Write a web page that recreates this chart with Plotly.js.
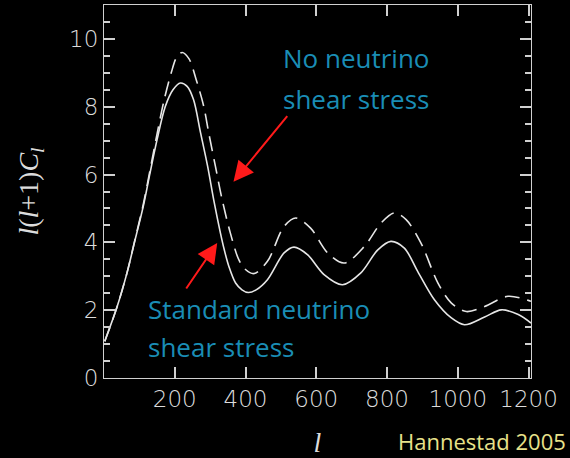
<!DOCTYPE html>
<html>
<head>
<meta charset="utf-8">
<script src="https://cdn.plot.ly/plotly-3.0.1.min.js"></script>
</head>
<body style="margin:0;background:#000">
<div id="chart"></div>
<script>
// Multipole moments and spectra
const ellStandard = [2, 37, 65, 88, 111, 130, 150, 173, 195, 216, 235, 253, 273, 293, 310, 329, 340, 353, 372, 390, 408, 430, 462, 509, 537, 575, 622, 674, 726, 774, 811, 849, 887, 934, 982, 1019, 1076, 1123, 1171, 1207];
const clStandard  = [1.08, 2.1, 3.1, 4.08, 5.06, 6.04, 7.03, 8.0, 8.5, 8.7, 8.6, 8.21, 7.23, 6.24, 5.26, 4.28, 3.78, 3.29, 2.8, 2.6, 2.52, 2.6, 2.9, 3.69, 3.86, 3.64, 3.05, 2.75, 3.1, 3.78, 4.03, 3.83, 3.14, 2.31, 1.77, 1.57, 1.8, 2.01, 1.87, 1.62];

const ellNoShear = [2, 37, 65, 88, 111, 130, 150, 170, 190, 205, 221, 240, 262, 282, 296, 315, 334, 357, 381, 400, 424, 462, 509, 542, 584, 632, 679, 736, 783, 821, 854, 896, 944, 982, 1024, 1076, 1142, 1207];
const clNoShear  = [1.08, 2.1, 3.1, 4.1, 5.12, 6.12, 7.2, 8.2, 9.0, 9.45, 9.6, 9.42, 8.75, 8.01, 7.23, 6.24, 5.26, 4.28, 3.49, 3.2, 3.08, 3.44, 4.47, 4.72, 4.42, 3.69, 3.39, 3.88, 4.57, 4.87, 4.67, 3.98, 2.8, 2.21, 1.96, 2.11, 2.41, 2.26];

const xTickVals = [200, 400, 600, 800, 1000, 1200];
const xTickText = ['200', '400', '600', '800', '1000', '1200'];
const yTickVals = [0, 2, 4, 6, 8, 10];
const yTickText = ['0', '2', '4', '6', '8', '10'];

const labelNoShear = ['No neutrino', 'shear stress'];
const labelStandard = ['Standard neutrino', 'shear stress'];
const credit = 'Hannestad 2005';

const curveColor = '#e6e6e6';
const axisColor = '#d0d0d0';
const teal = '#1a8db5';

const traces = [
  {
    x: ellStandard, y: clStandard, type: 'scatter', mode: 'lines',
    line: {color: curveColor, width: 1.6, shape: 'spline', smoothing: 0.9}
  },
  {
    x: ellNoShear, y: clNoShear, type: 'scatter', mode: 'lines',
    line: {color: curveColor, width: 1.6, shape: 'spline', smoothing: 0.9, dash: '15px,8px'}
  }
];

const tickFont = {family: 'DejaVu Sans, sans-serif', size: 23, color: '#dcdcdc', weight: 200};
const annFont = {family: 'Open Sans, sans-serif', size: 26, color: teal};
const titleFont = {family: 'Liberation Serif, serif', size: 28, color: '#dcdcdc'};

const layout = {
  width: 570, height: 458,
  paper_bgcolor: '#000', plot_bgcolor: '#000',
  margin: {l: 104, r: 39, t: 5, b: 80},
  showlegend: false,
  xaxis: {
    range: [0, 1207], tickmode: 'array', tickvals: xTickVals, ticktext: xTickText,
    ticks: 'inside', ticklen: 11, tickwidth: 2, tickcolor: axisColor,
    showline: true, linecolor: axisColor, mirror: 'ticks',
    showgrid: false, zerolinecolor: axisColor,
    tickfont: tickFont,
    title: {text: '<i>l</i>', font: titleFont}
  },
  yaxis: {
    range: [0, 11], tickmode: 'array', tickvals: yTickVals, ticktext: yTickText,
    ticks: 'inside', ticklen: 11, tickwidth: 2, tickcolor: axisColor,
    showline: true, linecolor: axisColor, mirror: 'ticks',
    showgrid: false, zerolinecolor: axisColor,
    minor: {dtick: 0.5, tick0: 0, ticks: 'inside', ticklen: 6, tickwidth: 2, tickcolor: axisColor},
    tickfont: tickFont,
    title: {text: '<i>l</i>(<i>l</i>+1)<i>C<sub>l</sub></i>', font: titleFont}
  },
  annotations: [
    {xref: 'paper', yref: 'paper', x: (356 - 104) / 427, y: (378 - 58) / 373, text: labelNoShear[0], showarrow: false, font: annFont, xanchor: 'center', yanchor: 'middle'},
    {xref: 'paper', yref: 'paper', x: (356 - 104) / 427, y: (378 - 99) / 373, text: labelNoShear[1], showarrow: false, font: annFont, xanchor: 'center', yanchor: 'middle'},
    {xref: 'paper', yref: 'paper', x: (146 - 104) / 427, y: (378 - 309) / 373, text: labelStandard[0], showarrow: false, font: annFont, xanchor: 'left', yanchor: 'middle'},
    {xref: 'paper', yref: 'paper', x: (146 - 104) / 427, y: (378 - 347) / 373, text: labelStandard[1], showarrow: false, font: annFont, xanchor: 'left', yanchor: 'middle'},
    {xref: 'paper', yref: 'paper', x: (568 - 104) / 427, y: (378 - 441) / 373, text: credit, showarrow: false, font: {family: 'Open Sans, sans-serif', size: 22, color: '#e8e28a'}, xanchor: 'right', yanchor: 'middle'},
    {x: 366, y: 5.79, xref: 'x', yref: 'y', text: '', showarrow: true, ax: 55, ay: -67, arrowcolor: '#ff1a1a', arrowwidth: 2, arrowhead: 2, arrowsize: 2},
    {x: 320, y: 3.98, xref: 'x', yref: 'y', text: '', showarrow: true, ax: -32, ay: 47, arrowcolor: '#ff1a1a', arrowwidth: 2, arrowhead: 2, arrowsize: 2}
  ]
};

Plotly.newPlot('chart', traces, layout, {displayModeBar: false});
</script>
</body>
</html>
